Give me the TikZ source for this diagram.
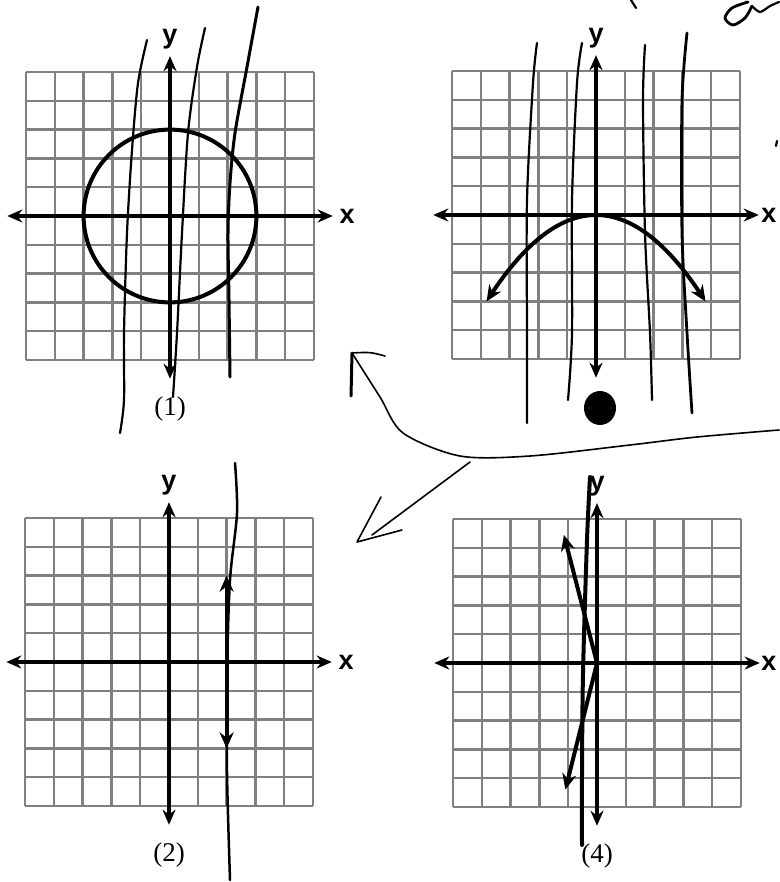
\documentclass[tikz,border=0pt]{standalone}
\usepackage{fontspec}
\setmainfont{Liberation Serif}
\setsansfont{Liberation Sans}
\usetikzlibrary{arrows.meta}
\tikzset{
  gridline/.style={draw=black!50, line width=2.4pt},
  axisline/.style={line width=3.6pt, {Stealth[length=15pt,width=13pt]}-{Stealth[length=15pt,width=13pt]}},
  graphline/.style={line width=4pt},
  graphar/.style={line width=4pt, {Stealth[length=16pt,width=14pt]}-{Stealth[length=16pt,width=14pt]}},
  axlab/.style={font=\sffamily\bfseries\fontsize{27}{30}\selectfont, inner sep=0pt},
  caption/.style={font=\fontsize{27}{30}\selectfont, inner sep=0pt},
  pen/.style={line width=2.2pt, line cap=round, line join=round},
  thinpen/.style={line width=1.6pt, line cap=round, line join=round},
}
\newcommand\mypanel[4]{%
\begin{scope}[shift={(#2,#3)}, x=28.8pt, y=28.8pt]
  \foreach \k in {-5,...,5} {
    \draw[gridline] (\k,-5) -- (\k,5);
    \draw[gridline] (-5,\k) -- (5,\k);
  }
  \draw[axisline] (-5.65,0) -- (5.65,0);
  \draw[axisline] (0,-5.65) -- (0,5.55);
  \node[axlab] (x#1) at (#4,0) {x};
  \node[axlab] (y#1) at (0,6.15) {y};
\end{scope}}
\begin{document}
\begin{tikzpicture}[x=1pt, y=-1pt]
\useasboundingbox (0,0) rectangle (779,882);
\fill[white] (0,0) rectangle (779,882);

% ---------- panels ----------
\mypanel{1}{170}{216}{6.15}
\mypanel{3}{596}{215}{6.0}
\mypanel{2}{169}{662}{6.15}
\mypanel{4}{597}{663}{5.97}

% panel 1: circle
\begin{scope}[shift={(170,216)}, x=28.8pt, y=28.8pt]
  \draw[graphline] (0,0) circle[radius=3];
  \node[caption] (c1) at (0,-6.7) {(1)};
\end{scope}
% panel 3 (top right): parabola
\begin{scope}[shift={(596,215)}, x=28.8pt, y=28.8pt]
  \draw[graphar] plot[domain=-3.8:3.8, samples=60, smooth] (\x, {-3*\x*\x/14.44});
\end{scope}
% panel 2: vertical line x=2
\begin{scope}[shift={(169,662)}, x=28.8pt, y=28.8pt]
  \draw[graphar] (2,-3) -- (2,3);
  \node[caption] (c2) at (0,-6.7) {(2)};
\end{scope}
% panel 4: sideways V
\begin{scope}[shift={(597,663)}, x=28.8pt, y=28.8pt]
  \draw[graphar] (-1.15,4.45) -- (0,0) -- (-1.1,-4.4);
  \node[caption] (c4) at (0,-6.7) {(4)};
\end{scope}

% ---------- handwriting ----------
% panel 1 strokes
\draw[pen] plot[smooth] coordinates {(147,40) (138,83) (132,150) (127,233) (124,333) (124,400) (120,433)};
\draw[pen] plot[smooth] coordinates {(205,28) (197,67) (188,133) (182,233) (177,333) (173,397)};
\draw[pen, line width=3pt] plot[smooth] coordinates {(258,7) (247,67) (235,133) (230,183) (228,233) (229,300) (230,377)};
% panel 3 strokes
\draw[pen] plot[smooth] coordinates {(537,43) (533,83) (527,200) (527,333) (527,423)};
\draw[pen] plot[smooth] coordinates {(582,43) (577,83) (572,200) (572,333) (568,400)};
\draw[pen] plot[smooth] coordinates {(645,45) (643,100) (645,233) (650,333) (652,400)};
\draw[pen, line width=2.8pt] plot[smooth] coordinates {(687,33) (682,100) (682,233) (687,333) (692,413)};
\fill (600,408) ellipse[x radius=16, y radius=17];
% panel 2 stroke
\draw[pen, line width=2.5pt] plot[smooth] coordinates {(235,463) (237,513) (230,580) (227,673) (227,773) (230,880)};
% panel 4 stroke
\draw[pen, line width=4pt] plot[smooth] coordinates {(590,477) (587,540) (583,673) (582,773) (582,845)};

% big hand-drawn arrows
\coordinate (re) at (779,430);
\coordinate (ta) at (352,353);
\draw[thinpen] plot[smooth] coordinates {(779,430) (697,437) (630,445) (530,456) (460,456) (403,433) (380,397) (352,353)};
\draw[thinpen] (385,356) .. controls (370,352) .. (ta);
\draw[pen, line width=3pt] (ta) -- (351,396);
\coordinate (tb) at (357,542);
\draw[thinpen] (470,462) -- (372,535);
\draw[thinpen] (381,497) -- (tb) -- (402,530);

% marks at top right
\draw[pen] (631,0) -- (636,8);
\draw[pen, line width=2.8pt] plot[smooth] coordinates {(748,2) (732,8) (725,18) (733,25) (745,18) (752,6)};
\draw[pen] plot[smooth] coordinates {(752,6) (760,12) (770,6) (779,2)};
\draw[pen] (777,141) -- (776,146);
\end{tikzpicture}
\end{document}
